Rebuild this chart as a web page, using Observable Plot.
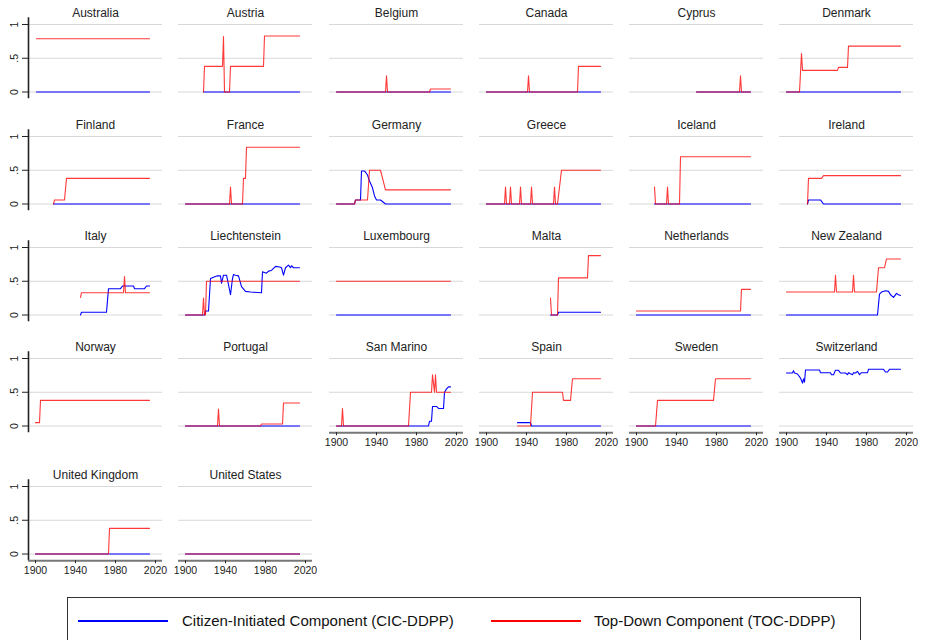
<!DOCTYPE html>
<html>
<head>
<meta charset="utf-8">
<script src="https://cdn.jsdelivr.net/npm/d3@7"></script>
<script src="https://cdn.jsdelivr.net/npm/@observablehq/plot@0.6"></script>
<style>
html, body { margin: 0; padding: 0; background: #fff; }
#chart { position: relative; width: 926px; height: 640px; overflow: hidden; font-family: "Liberation Sans", Arial, Helvetica, sans-serif; }
#legend { position: absolute; left: 67px; top: 597px; width: 794px; height: 60px; border: 1px solid #333; box-sizing: border-box; }
#legend .sw { position: absolute; width: 90px; height: 2px; top: 22px; }
#legend .lb { position: absolute; top: 14px; font-size: 15px; line-height: 18px; color: #111; white-space: nowrap; }
</style>
</head>
<body>
<div id="chart"></div>
<script>
// ---- data: [year, value] pairs ----
const countries = ["Australia","Austria","Belgium","Canada","Cyprus","Denmark","Finland","France","Germany","Greece","Iceland","Ireland","Italy","Liechtenstein","Luxembourg","Malta","Netherlands","New Zealand","Norway","Portugal","San Marino","Spain","Sweden","Switzerland","United Kingdom","United States"];

const ausCIC = [[1901,0],[2014,0]];
const ausTOC = [[1901,0.79],[2014,0.79]];
const autCIC = [[1918,0],[2014,0]];
const autTOC = [[1918,0],[1919,0.38],[1937,0.38],[1938,0.82],[1939,0],[1944,0],[1945,0.38],[1978,0.38],[1979,0.83],[2014,0.83]];
const belCIC = [[1900,0],[2014,0]];
const belTOC = [[1900,0],[1949,0],[1950,0.24],[1951,0],[1993,0],[1994,0.045],[2014,0.045]];
const canCIC = [[1900,0],[2014,0]];
const canTOC = [[1900,0],[1941,0],[1942,0.24],[1943,0],[1991,0],[1992,0.38],[2014,0.38]];
const cypCIC = [[1960,0],[2014,0]];
const cypTOC = [[1960,0],[2003,0],[2004,0.24],[2005,0],[2014,0]];
const dnkCIC = [[1900,0],[2014,0]];
const dnkTOC = [[1900,0],[1913,0],[1915,0.57],[1916,0.32],[1951,0.32],[1952,0.365],[1961,0.365],[1962,0.68],[2014,0.68]];
const finCIC = [[1918,0],[2014,0]];
const finTOC = [[1918,0],[1919,0.06],[1929,0.06],[1931,0.38],[2014,0.38]];
const fraCIC = [[1900,0],[2014,0]];
const fraTOC = [[1900,0],[1944,0],[1945,0.25],[1946,0],[1957,0],[1958,0.38],[1960,0.38],[1961,0.84],[2014,0.84]];
const deuCIC = [[1900,0],[1918,0],[1919,0.06],[1924,0.06],[1925,0.49],[1928,0.49],[1931,0.43],[1933,0.34],[1936,0.24],[1938,0.12],[1940,0.06],[1944,0.06],[1949,0],[2014,0]];
const deuTOC = [[1900,0],[1918,0],[1919,0.06],[1931,0.06],[1933,0.5],[1944,0.5],[1949,0.21],[2014,0.21]];
const grcCIC = [[1900,0],[2014,0]];
const grcTOC = [[1900,0],[1918,0],[1919,0.25],[1920,0],[1923,0],[1924,0.25],[1925,0],[1933,0],[1934,0.25],[1935,0],[1944,0],[1945,0.25],[1946,0],[1967,0],[1968,0.25],[1969,0],[1971,0],[1973,0.25],[1975,0.5],[2014,0.5]];
const islCIC = [[1918,0],[2014,0]];
const islTOC = [[1918,0.25],[1919,0],[1930,0],[1931,0.25],[1932,0],[1943,0],[1944,0.7],[2014,0.7]];
const irlCIC = [[1921,0],[1922,0.06],[1934,0.06],[1937,0],[2014,0]];
const irlTOC = [[1921,0],[1922,0.38],[1935,0.38],[1937,0.42],[2014,0.42]];
const itaCIC = [[1945,0],[1946,0.04],[1971,0.04],[1973,0.39],[1985,0.39],[1987,0.43],[1998,0.43],[1999,0.39],[2009,0.39],[2011,0.43],[2014,0.43]];
const itaTOC = [[1945,0.26],[1946,0.33],[1988,0.33],[1989,0.57],[1990,0.33],[2014,0.33]];
const lieCIC = [[1900,0],[1919,0],[1920,0.06],[1923,0.06],[1925,0.54],[1928,0.56],[1932,0.58],[1935,0.58],[1936,0.47],[1938,0.59],[1941,0.59],[1943,0.45],[1945,0.3],[1947,0.54],[1948,0.6],[1950,0.59],[1953,0.58],[1956,0.42],[1960,0.35],[1965,0.34],[1976,0.33],[1977,0.64],[1979,0.63],[1981,0.62],[1983,0.65],[1986,0.66],[1990,0.72],[1994,0.71],[1996,0.7],[1998,0.59],[2000,0.7],[2003,0.74],[2004,0.72],[2005,0.7],[2006,0.73],[2008,0.7],[2014,0.7]];
const lieTOC = [[1900,0],[1917,0],[1918,0.25],[1919,0],[1920,0],[1921,0.5],[2014,0.5]];
const luxCIC = [[1900,0],[2014,0]];
const luxTOC = [[1900,0.5],[2014,0.5]];
const mltCIC = [[1964,0],[1971,0],[1972,0.04],[2014,0.04]];
const mltTOC = [[1964,0.25],[1965,0],[1971,0],[1972,0.55],[2001,0.55],[2002,0.88],[2014,0.88]];
const nldCIC = [[1900,0],[2014,0]];
const nldTOC = [[1900,0.06],[2004,0.06],[2005,0.38],[2014,0.38]];
const nzlCIC = [[1900,0],[1991,0],[1993,0.31],[1995,0.34],[1999,0.36],[2002,0.35],[2004,0.3],[2007,0.26],[2010,0.32],[2012,0.3],[2014,0.29]];
const nzlTOC = [[1900,0.34],[1948,0.34],[1949,0.59],[1950,0.34],[1966,0.34],[1967,0.59],[1968,0.34],[1990,0.34],[1992,0.7],[1998,0.7],[2000,0.83],[2014,0.83]];
const norCIC = [];
const norTOC = [[1900,0.05],[1904,0.05],[1905,0.38],[2014,0.38]];
const prtCIC = [[1900,0],[2014,0]];
const prtTOC = [[1900,0],[1932,0],[1933,0.25],[1934,0],[1975,0],[1976,0.03],[1997,0.03],[1998,0.34],[2014,0.34]];
const smrCIC = [[1900,0],[1992,0],[1993,0.07],[1995,0.07],[1996,0.29],[2000,0.29],[2002,0.26],[2007,0.26],[2008,0.5],[2010,0.55],[2012,0.58],[2014,0.58]];
const smrTOC = [[1900,0],[1905,0],[1906,0.26],[1907,0],[1972,0],[1974,0.5],[1995,0.5],[1996,0.76],[1998,0.5],[1999,0.76],[2000,0.5],[2014,0.5]];
const espCIC = [[1931,0.05],[1944,0.05],[1945,0],[2014,0]];
const espTOC = [[1931,0],[1944,0],[1946,0.5],[1976,0.5],[1977,0.38],[1984,0.38],[1986,0.7],[2014,0.7]];
const sweCIC = [[1900,0],[2014,0]];
const sweTOC = [[1900,0],[1919,0],[1921,0.38],[1977,0.38],[1979,0.7],[2014,0.7]];
const cheCIC = [[1900,0.785],[1906,0.785],[1907,0.82],[1908,0.785],[1911,0.77],[1914,0.71],[1916,0.635],[1917,0.7],[1918,0.65],[1919,0.83],[1933,0.83],[1934,0.79],[1944,0.79],[1945,0.76],[1947,0.76],[1949,0.825],[1952,0.825],[1954,0.785],[1959,0.785],[1961,0.76],[1962,0.79],[1966,0.76],[1967,0.79],[1969,0.785],[1971,0.81],[1973,0.76],[1975,0.79],[1981,0.79],[1982,0.84],[1997,0.84],[1999,0.8],[2001,0.8],[2003,0.84],[2014,0.84]];
const cheTOC = [];
const gbrCIC = [[1900,0],[2014,0]];
const gbrTOC = [[1900,0],[1973,0],[1974,0.38],[2014,0.38]];
const usaCIC = [[1900,0],[2014,0]];
const usaTOC = [[1900,0],[2014,0]];

const cicSeries = [ausCIC,autCIC,belCIC,canCIC,cypCIC,dnkCIC,finCIC,fraCIC,deuCIC,grcCIC,islCIC,irlCIC,itaCIC,lieCIC,luxCIC,mltCIC,nldCIC,nzlCIC,norCIC,prtCIC,smrCIC,espCIC,sweCIC,cheCIC,gbrCIC,usaCIC];
const tocSeries = [ausTOC,autTOC,belTOC,canTOC,cypTOC,dnkTOC,finTOC,fraTOC,deuTOC,grcTOC,islTOC,irlTOC,itaTOC,lieTOC,luxTOC,mltTOC,nldTOC,nzlTOC,norTOC,prtTOC,smrTOC,espTOC,sweTOC,cheTOC,gbrTOC,usaTOC];

const xTicks = [1900, 1940, 1980, 2020];
const yTicks = [0, 0.5, 1];
const yTickLabels = ["0", ".5", "1"];
const legendLabels = ["Citizen-Initiated Component (CIC-DDPP)", "Top-Down Component (TOC-DDPP)"];
const seriesColors = ["#0000ff", "#ff0000"];

// ---- layout ----
const NCOL = 6, COLPITCH = 150.25, FRAME_LEFT0 = 28;
const ROWZERO = [92, 204, 315, 426, 554];
const X_DOMAIN = [1893, 2027], Y_DOMAIN = [-0.1, 1.1];
const FRAME_W = 134, ML = 28, MR = 2, MT = 19.25, FH = 81, MB = 26.75;
const FONT = "'Liberation Sans', Arial, Helvetica, sans-serif";

const chart = document.getElementById("chart");
const toRows = s => s.map(([year, value]) => ({year, value}));

countries.forEach((name, i) => {
  const col = i % NCOL, row = Math.floor(i / NCOL);
  const showX = i + NCOL >= countries.length;
  const showY = col === 0;
  const marks = [
    Plot.gridY(yTicks, {stroke: "#d8d8d8", strokeOpacity: 1, strokeWidth: 1}),
    Plot.line(toRows(cicSeries[i]), {x: "year", y: "value", stroke: seriesColors[0], strokeWidth: 1.1}),
    Plot.line(toRows(tocSeries[i]), {x: "year", y: "value", stroke: seriesColors[1], strokeWidth: 1.1, strokeOpacity: 0.78}),
    Plot.text([name], {frameAnchor: "top", dy: -5, text: d => d, fontSize: 12, fill: "#222", lineAnchor: "middle"})
  ];
  if (showY) {
    marks.push(
      Plot.ruleX([X_DOMAIN[0]], {stroke: "#222", strokeWidth: 1.6}),
      Plot.axisY(yTicks, {tickSize: 6, tickFormat: () => "", stroke: "#222", label: null}),
      Plot.text(yTicks, {y: d => d, text: (d, j) => yTickLabels[j], frameAnchor: "left", dx: -14, rotate: -90, textAnchor: "middle", lineAnchor: "middle", fontSize: 10.5, fill: "#222"})
    );
  }
  if (showX) {
    marks.push(
      Plot.ruleY([Y_DOMAIN[0]], {stroke: "#777", strokeWidth: 2}),
      Plot.axisX(xTicks, {tickSize: 3, tickPadding: 3, tickFormat: d => String(d), fontSize: 10.5, color: "#222", label: null})
    );
  }
  const svg = Plot.plot({
    width: ML + FRAME_W + MR,
    height: MT + FH + MB,
    marginLeft: ML, marginRight: MR, marginTop: MT, marginBottom: MB,
    x: {domain: X_DOMAIN, axis: null, label: null},
    y: {domain: Y_DOMAIN, axis: null, label: null},
    style: {background: "transparent", overflow: "visible", fontFamily: FONT, position: "absolute",
            left: (FRAME_LEFT0 + col * COLPITCH - ML) + "px", top: (ROWZERO[row] - 94) + "px", maxWidth: "none"},
    marks
  });
  chart.appendChild(svg);
});

// ---- legend (below the panels) ----
const legend = document.createElement("div");
legend.id = "legend";
const swLeft = [10, 423], lbLeft = [114, 526];
legendLabels.forEach((lab, k) => {
  const sw = document.createElement("div");
  sw.className = "sw"; sw.style.left = swLeft[k] + "px"; sw.style.background = seriesColors[k];
  const lb = document.createElement("div");
  lb.className = "lb"; lb.style.left = lbLeft[k] + "px"; lb.textContent = lab;
  legend.appendChild(sw); legend.appendChild(lb);
});
chart.appendChild(legend);
</script>
</body>
</html>
